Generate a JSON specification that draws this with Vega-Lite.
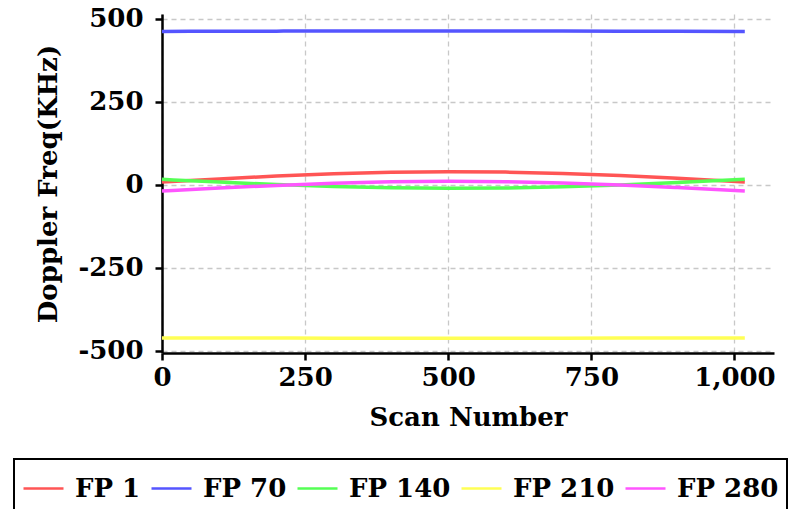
{
  "$schema": "https://vega.github.io/schema/vega-lite/v6.json",
  "width": 612,
  "height": 339,
  "autosize": {"type": "none"},
  "padding": {"left": 162, "top": 14, "right": 25, "bottom": 156},
  "background": "white",
  "data": {
    "values": [
      {"scan": 0, "fp": "FP 1", "freq": 8}, {"scan": 100, "fp": "FP 1", "freq": 17.4}, {"scan": 200, "fp": "FP 1", "freq": 26}, {"scan": 300, "fp": "FP 1", "freq": 32.8}, {"scan": 400, "fp": "FP 1", "freq": 37.3}, {"scan": 500, "fp": "FP 1", "freq": 39}, {"scan": 600, "fp": "FP 1", "freq": 37.8}, {"scan": 700, "fp": "FP 1", "freq": 33.8}, {"scan": 800, "fp": "FP 1", "freq": 27.3}, {"scan": 900, "fp": "FP 1", "freq": 19}, {"scan": 1018, "fp": "FP 1", "freq": 8},
      {"scan": 0, "fp": "FP 70", "freq": 461.5}, {"scan": 100, "fp": "FP 70", "freq": 462}, {"scan": 200, "fp": "FP 70", "freq": 462.4}, {"scan": 300, "fp": "FP 70", "freq": 462.7}, {"scan": 400, "fp": "FP 70", "freq": 462.9}, {"scan": 500, "fp": "FP 70", "freq": 463}, {"scan": 600, "fp": "FP 70", "freq": 462.9}, {"scan": 700, "fp": "FP 70", "freq": 462.7}, {"scan": 800, "fp": "FP 70", "freq": 462.4}, {"scan": 900, "fp": "FP 70", "freq": 462}, {"scan": 1018, "fp": "FP 70", "freq": 461.5},
      {"scan": 0, "fp": "FP 140", "freq": 16}, {"scan": 100, "fp": "FP 140", "freq": 7.8}, {"scan": 200, "fp": "FP 140", "freq": 0.4}, {"scan": 300, "fp": "FP 140", "freq": -5.6}, {"scan": 400, "fp": "FP 140", "freq": -9.5}, {"scan": 500, "fp": "FP 140", "freq": -11}, {"scan": 600, "fp": "FP 140", "freq": -10}, {"scan": 700, "fp": "FP 140", "freq": -6.4}, {"scan": 800, "fp": "FP 140", "freq": -0.8}, {"scan": 900, "fp": "FP 140", "freq": 6.4}, {"scan": 1018, "fp": "FP 140", "freq": 16},
      {"scan": 0, "fp": "FP 210", "freq": -461.5}, {"scan": 100, "fp": "FP 210", "freq": -461.8}, {"scan": 200, "fp": "FP 210", "freq": -462.1}, {"scan": 300, "fp": "FP 210", "freq": -462.3}, {"scan": 400, "fp": "FP 210", "freq": -462.4}, {"scan": 500, "fp": "FP 210", "freq": -462.5}, {"scan": 600, "fp": "FP 210", "freq": -462.4}, {"scan": 700, "fp": "FP 210", "freq": -462.3}, {"scan": 800, "fp": "FP 210", "freq": -462.1}, {"scan": 900, "fp": "FP 210", "freq": -461.8}, {"scan": 1018, "fp": "FP 210", "freq": -461.5},
      {"scan": 0, "fp": "FP 280", "freq": -19}, {"scan": 100, "fp": "FP 280", "freq": -10.2}, {"scan": 200, "fp": "FP 280", "freq": -2.2}, {"scan": 300, "fp": "FP 280", "freq": 4.2}, {"scan": 400, "fp": "FP 280", "freq": 8.4}, {"scan": 500, "fp": "FP 280", "freq": 10}, {"scan": 600, "fp": "FP 280", "freq": 8.9}, {"scan": 700, "fp": "FP 280", "freq": 5.1}, {"scan": 800, "fp": "FP 280", "freq": -1}, {"scan": 900, "fp": "FP 280", "freq": -8.7}, {"scan": 1018, "fp": "FP 280", "freq": -19}
    ]
  },
  "mark": {"type": "line", "strokeWidth": 3.5, "interpolate": "monotone", "clip": true},
  "encoding": {
    "x": {
      "field": "scan", "type": "quantitative", "title": "Scan Number",
      "scale": {"domain": [0, 1069], "nice": false, "zero": false},
      "axis": {"values": [0, 250, 500, 750, 1000], "format": ",d", "titlePadding": 14, "labelPadding": 4, "labelFlush": false}
    },
    "y": {
      "field": "freq", "type": "quantitative", "title": "Doppler Freq(KHz)",
      "scale": {"domain": [-507, 514], "nice": false, "zero": false},
      "axis": {"values": [-500, -250, 0, 250, 500], "labelExpr": "toString(datum.value)", "titlePadding": 16, "labelPadding": 12, "labelFlush": false}
    },
    "color": {
      "field": "fp", "type": "nominal",
      "scale": {"domain": ["FP 1", "FP 70", "FP 140", "FP 210", "FP 280"], "range": ["#ff5555", "#5555ff", "#55ff55", "#ffff55", "#ff55ff"]},
      "legend": {
        "title": null, "orient": "none", "legendX": -148, "legendY": 445,
        "direction": "horizontal", "columns": 5, "gridAlign": "none",
        "symbolType": "stroke", "symbolSize": 1600, "symbolStrokeWidth": 2.5,
        "labelFont": "DejaVu Serif", "labelFontWeight": "bold", "labelFontSize": 26, "labelColor": "black",
        "labelOffset": 10, "columnPadding": 5, "padding": 8,
        "strokeColor": "black",
        "encode": {"legend": {"update": {"strokeWidth": {"value": 2}}}}
      }
    }
  },
  "config": {
    "view": {"stroke": null},
    "axis": {
      "labelFont": "DejaVu Serif", "labelFontWeight": "bold", "labelFontSize": 26, "labelColor": "black",
      "titleFont": "DejaVu Serif", "titleFontWeight": "bold", "titleFontSize": 26, "titleColor": "black",
      "domainColor": "black", "domainWidth": 2.5, "tickColor": "black", "tickWidth": 2.5, "tickSize": 7,
      "grid": true, "gridColor": "#c8c8c8", "gridDash": [5, 4], "gridWidth": 1.3
    }
  }
}
